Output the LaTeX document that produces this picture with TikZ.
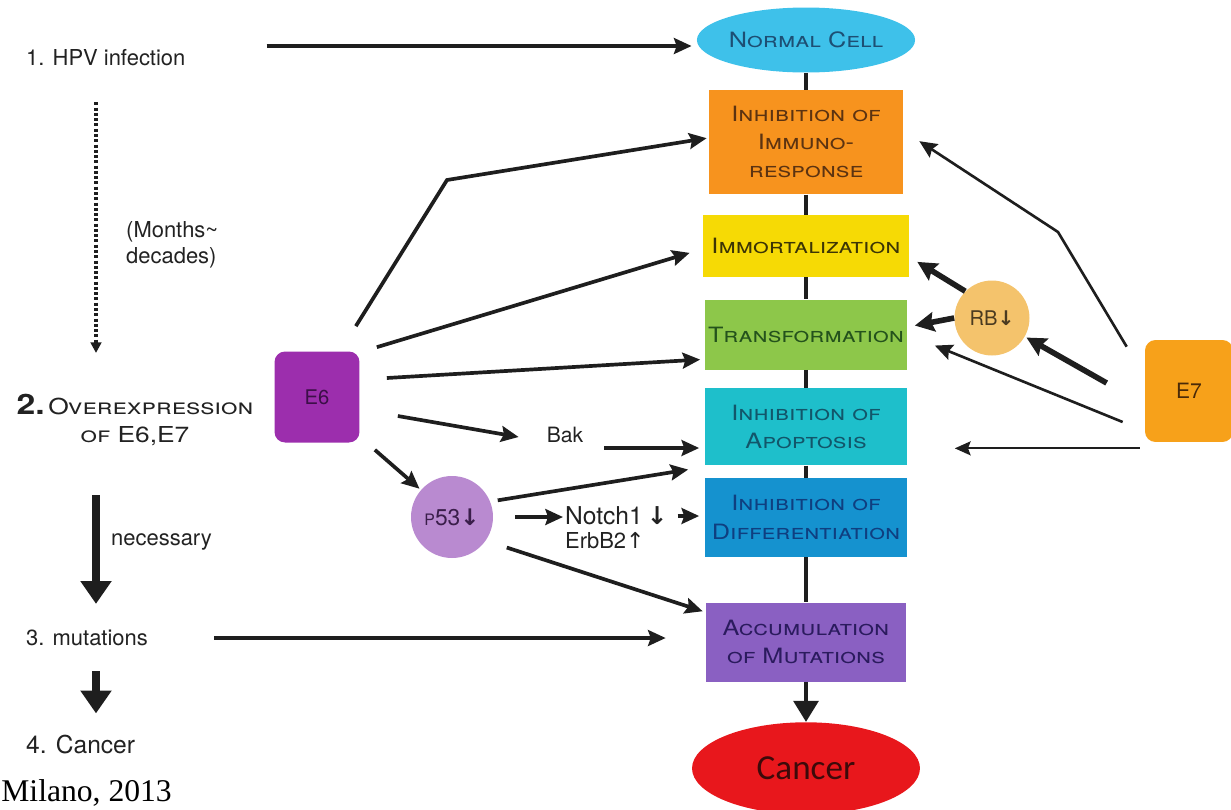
\documentclass[tikz,border=0pt]{standalone}
\usepackage{fontspec}
\setmainfont{TeX Gyre Heros}
\newfontfamily\boxfont[FakeStretch=1.2]{TeX Gyre Heros}
\newfontfamily\arrowfont{DejaVu Sans}
\newfontfamily\cancerfont{Carlito}
\newfontfamily\citefont{Liberation Serif}
\usepackage{tikz}
\usetikzlibrary{arrows.meta, positioning, shapes.geometric}
\usepackage{xcolor}

\definecolor{normalcol}{HTML}{3EC1EA}
\definecolor{normaltxt}{HTML}{1D4F74}
\definecolor{immunocol}{HTML}{F7931E}
\definecolor{immunotxt}{HTML}{5C3311}
\definecolor{immortcol}{HTML}{F6DA05}
\definecolor{immorttxt}{HTML}{3C3505}
\definecolor{transcol}{HTML}{8DC74A}
\definecolor{transtxt}{HTML}{24521C}
\definecolor{apopcol}{HTML}{1EBFCB}
\definecolor{apoptxt}{HTML}{12566A}
\definecolor{diffcol}{HTML}{1592CF}
\definecolor{difftxt}{HTML}{0F3F80}
\definecolor{accumcol}{HTML}{8A60C2}
\definecolor{accumtxt}{HTML}{2B1B5E}
\definecolor{cancercol}{HTML}{E8171C}
\definecolor{cancertxt}{HTML}{3D0A0A}
\definecolor{esixcol}{HTML}{9C2EAD}
\definecolor{esixtxt}{HTML}{3C0F48}
\definecolor{esevencol}{HTML}{F7A11A}
\definecolor{eseventxt}{HTML}{4A2A08}
\definecolor{pcol}{HTML}{B98AD0}
\definecolor{ptxt}{HTML}{3A1E4A}
\definecolor{rbcol}{HTML}{F4C36C}
\definecolor{rbtxt}{HTML}{4A3A20}
\definecolor{inkcol}{HTML}{1E1E1E}
\definecolor{leftcol}{HTML}{222222}

\begin{document}
\begin{tikzpicture}[x=0.02cm, y=-0.02cm,
    stage/.style={rectangle, inner sep=1pt, align=center,
        font=\boxfont\fontsize{12}{16}\selectfont\scshape},
    step text/.style={anchor=west, text=leftcol,
        font=\fontsize{12.5}{15}\selectfont},
    arr/.style={-{Stealth[length=10pt, width=9pt, inset=1.5pt]},
        line width=2.1pt, draw=inkcol},
    arrthin/.style={arr, line width=1.5pt},
    arrhair/.style={-{Stealth[length=9pt, width=8pt, inset=1.5pt]},
        line width=1pt, draw=inkcol},
    fatarr/.style={-{Stealth[length=11pt, width=11pt, inset=1.5pt]},
        line width=3.2pt, draw=inkcol},
    bigarr/.style={-{Triangle[length=13pt, width=17pt]},
        line width=4.5pt, draw=inkcol},
    dotarr/.style={-{Triangle[length=6pt, width=6pt]},
        line width=2pt, draw=inkcol, dash pattern=on 1.7pt off 1.3pt},
    link/.style={line width=2.4pt, draw=inkcol}]
    \useasboundingbox (0,0) rectangle (1231,809);

    % main column
    \node[ellipse,
        fill=normalcol,
        text=normaltxt,
        inner sep=0pt,
        minimum width=41.4mm, minimum height=13mm,
        font=\boxfont\fontsize{12}{16}\selectfont\scshape
        ] (normal) at (806,40) {Normal Cell};
    \node[stage,
        fill=immunocol,
        text=immunotxt,
        minimum width=38.8mm, minimum height=20.8mm,
        below=3.4mm of normal
        ] (immuno) {Inhibition of\\Immuno-\\response};
    \node[stage,
        fill=immortcol,
        text=immorttxt,
        minimum width=41.2mm, minimum height=12.4mm,
        below=4mm of immuno
        ] (immort) {Immortalization};
    \node[stage,
        fill=transcol,
        text=transtxt,
        minimum width=40.6mm, minimum height=14mm,
        below=4.4mm of immort
        ] (trans) {Transformation};
    \node[stage,
        fill=apopcol,
        text=apoptxt,
        minimum width=40.6mm, minimum height=15.4mm,
        below=3.6mm of trans
        ] (apop) {Inhibition of\\Apoptosis};
    \node[stage,
        fill=diffcol,
        text=difftxt,
        minimum width=40.6mm, minimum height=15.8mm,
        below=2.4mm of apop
        ] (diff) {Inhibition of\\Differentiation};
    \node[stage,
        fill=accumcol,
        text=accumtxt,
        minimum width=40mm, minimum height=15.8mm,
        below=9mm of diff
        ] (accum) {Accumulation\\of Mutations};
    \node[ellipse,
        fill=cancercol,
        text=cancertxt,
        inner sep=0pt,
        minimum width=45.6mm, minimum height=18.4mm,
        font=\cancerfont\fontsize{20}{24}\selectfont,
        below=8mm of accum
        ] (cancer) {Cancer};

    % left steps
    \coordinate (lane) at (96,0);
    \node[step text] (hpv) at (20,58) {1. HPV infection};
    \node[step text, align=left] (months) at (120,245) {(Months\textasciitilde\\decades)};
    \node[align=center,
        text=leftcol,
        font=\boxfont\fontsize{12.5}{16}\selectfont
        ] (overexp) at (135,420) {{\fontsize{16}{16}\selectfont\bfseries 2.}\,\textsc{Overexpression}\\\textsc{of E6,E7}};
    \node[step text] (need) at (105,542) {necessary};
    \node[step text] (mut) at (20,638) {3. mutations};
    \node[step text, font=\fontsize{14}{16}\selectfont] (sick) at (20,745) {4. Cancer};
    \node[anchor=base west,
        inner sep=0pt,
        font=\citefont\fontsize{18}{20}\selectfont
        ] (cite) at (1,801) {Milano, 2013};

    % oncoproteins
    \node[rounded corners=6pt,
        fill=esixcol,
        text=esixtxt,
        minimum width=17mm, minimum height=18.2mm,
        font=\fontsize{11.5}{12}\selectfont
        ] (esix) at (317,397) {E6};
    \node[rounded corners=6pt,
        fill=esevencol,
        text=eseventxt,
        minimum width=17.6mm, minimum height=20.4mm,
        font=\fontsize{12}{12}\selectfont
        ] (eseven) at (1189,391) {E7};
    \node[circle,
        fill=pcol,
        text=ptxt,
        inner sep=0pt,
        minimum size=16.4mm,
        font=\fontsize{13}{14}\selectfont
        ] (p53) at (452,517) {{\fontsize{9}{10}\selectfont P}53{\arrowfont\bfseries ↓}};
    \node[circle,
        fill=rbcol,
        text=rbtxt,
        inner sep=0pt,
        minimum size=15mm,
        font=\fontsize{11.5}{12}\selectfont
        ] (rb) at (992,318) {RB{\arrowfont\bfseries ↓}};
    \node[text=leftcol, font=\fontsize{12}{14}\selectfont] (bak) at (565,435) {Bak};
    \node[anchor=west,
        inner sep=1pt,
        text=leftcol,
        font=\fontsize{14}{16}\selectfont
        ] (notch) at (563,516) {Notch1\,{\arrowfont\bfseries ↓}};
    \node[below right=2pt and 0pt of notch.south west,
        inner sep=1pt,
        text=leftcol,
        font=\fontsize{12.5}{14}\selectfont
        ] (erbb) {ErbB2{\arrowfont ↑}};

    \coordinate (bendsix) at (447,180);
    \coordinate (bendseven) at (1058,232);
    \coordinate (hpvstart) at ([shift={(75,-12)}]hpv.east);
    \coordinate (bakstart) at ([shift={(15,13)}]bak.east);
    \coordinate (sevenstart) at ([shift={(-5,6)}]eseven.south west);

    % spine
    \draw[link]
        (normal) edge (immuno)
        (immuno) edge (immort)
        (immort) edge (trans)
        (trans) edge (apop)
        (apop) edge (diff)
        (diff) edge (accum);
    \draw[link, -{Triangle[length=12pt, width=14pt]}] (accum) -- (cancer);

    % left arrows
    \draw[dotarr, shorten <=6mm, shorten >=7mm] (hpv.south -| lane) -- (overexp.north -| lane);
    \draw[bigarr, shorten <=8.6mm, shorten >=4mm] (overexp.south -| lane) -- (mut.north -| lane);
    \draw[bigarr, shorten <=3.8mm, shorten >=3.2mm] (mut.south -| lane) -- (sick.north -| lane);
    \draw[arr, shorten >=1mm] (hpvstart) -- (hpvstart -| normal.west);
    \draw[arr, shorten >=8mm] ([xshift=12mm]mut.east) -- (mut.east -| accum.west);

    % E6 and p53
    \draw[arr] ([shift={(-4,-25)}]esix.north east) -- (bendsix) -- ([shift={(-2,-4)}]immuno.west);
    \draw[arr] ([shift={(17,-4)}]esix.north east) -- ([shift={(-13,7)}]immort.west);
    \draw[arr] ([shift={(27,-19)}]esix.east) -- ([shift={(-4,25)}]trans.west);
    \draw[arr] ([shift={(38,19)}]esix.east) -- ([shift={(-22,2)}]bak.west);
    \draw[arr, shorten >=1mm] (bakstart) -- (bakstart -| apop.west);
    \draw[arr, shorten >=1pt] ([shift={(15,7)}]esix.south east) -- (p53);
    \draw[arr, shorten <=1.5mm] (p53.22) -- ([shift={(-16,4)}]apop.south west);
    \draw[arr, shorten <=4.4mm] (p53.east) -- (p53.east -| notch.west);
    \draw[arr, shorten >=1mm] ([xshift=1.6mm]notch.east) -- (notch.east -| diff.west);
    \draw[arr, shorten <=4.4mm] (p53.-35) -- ([shift={(-3,9)}]accum.north west);

    % E7 and RB
    \draw[arrthin] ([shift={(-18,7)}]eseven.north west) -- (bendseven) -- ([shift={(16,-1)}]immuno.east);
    \draw[fatarr, shorten >=1pt] ([shift={(-38,-8)}]eseven.west) -- (rb);
    \draw[arrthin] ([shift={(-22,31)}]eseven.west) -- ([shift={(27,11)}]trans.east);
    \draw[arrhair, shorten >=9.4mm] (sevenstart) -- (sevenstart -| apop.east);
    \draw[fatarr] (rb.135) -- ([shift={(8,16)}]immort.east);
    \draw[fatarr] (rb.west) -- ([shift={(7,-9)}]trans.east);
\end{tikzpicture}
\end{document}
